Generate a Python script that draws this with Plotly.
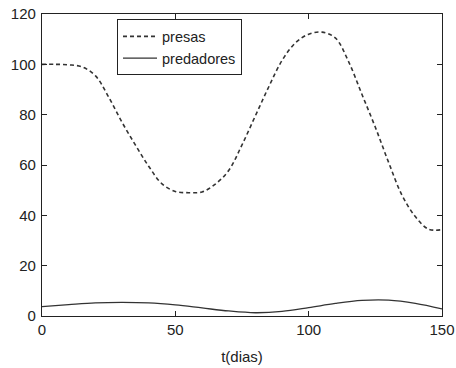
import plotly.graph_objects as go

t_days = [0, 5, 10, 15, 20, 25, 30, 35, 40, 45, 50, 55, 60, 65, 70, 75, 80, 85, 90, 95,
          100, 105, 110, 115, 120, 125, 130, 135, 140, 145, 150]
presas = [100, 100, 99.8, 99, 95.5, 87, 77, 68, 59.5, 52.5, 49.5, 49, 49.3, 52.4, 57.8,
          68, 79.5, 91, 101.5, 108.5, 112, 112.8, 110.5, 101, 88, 75, 61, 48, 39.5, 34.5, 34.3]
t_pred = [0, 10, 20, 30, 40, 50, 60, 70, 80, 90, 100, 110, 120, 130, 140, 150]
predadores = [3.7, 4.5, 5.2, 5.4, 5.2, 4.4, 3.2, 2.0, 1.3, 1.8, 3.3, 5.0, 6.2, 6.3, 5.0, 2.8]

x_ticks = [0, 50, 100, 150]
y_ticks = [0, 20, 40, 60, 80, 100, 120]

FONT = dict(family="Liberation Sans", size=15, color="#222222")

fig = go.Figure()
fig.add_trace(go.Scatter(x=t_days, y=presas, mode="lines", name="presas",
                         line=dict(color="#333333", width=1.6, dash="4px,3px", shape="spline")))
fig.add_trace(go.Scatter(x=t_pred, y=predadores, mode="lines", name="predadores",
                         line=dict(color="#333333", width=1.3, shape="spline")))

axis_common = dict(showline=True, linecolor="#222222", linewidth=1.2, mirror="all",
                   ticks="inside", ticklen=5, tickcolor="#222222", showgrid=False,
                   zeroline=False, automargin=False, tickfont=FONT,
                   ticklabeloverflow="allow")

fig.update_xaxes(range=[0, 150], tickvals=x_ticks,
                 title=dict(text="t(dias)", font=FONT, standoff=14),
                 **axis_common)
fig.update_yaxes(range=[0, 120], tickvals=y_ticks, ticklabelstandoff=2, **axis_common)

fig.update_layout(
    width=456, height=368,
    margin=dict(l=42, r=14, t=14, b=52),
    paper_bgcolor="white", plot_bgcolor="white",
    showlegend=True,
    legend=dict(x=0.1875, y=0.982, xanchor="left", yanchor="top",
                bgcolor="white", bordercolor="#222222", borderwidth=1,
                font=dict(family="Liberation Sans", size=14.5, color="#222222"),
                tracegroupgap=0, itemwidth=34,
                entrywidth=130, entrywidthmode="pixels"),
)

fig.write_html(
    "out.html",
    config={"displayModeBar": False},
    post_script="document.body.style.margin='0';document.body.style.overflow='hidden';",
)
